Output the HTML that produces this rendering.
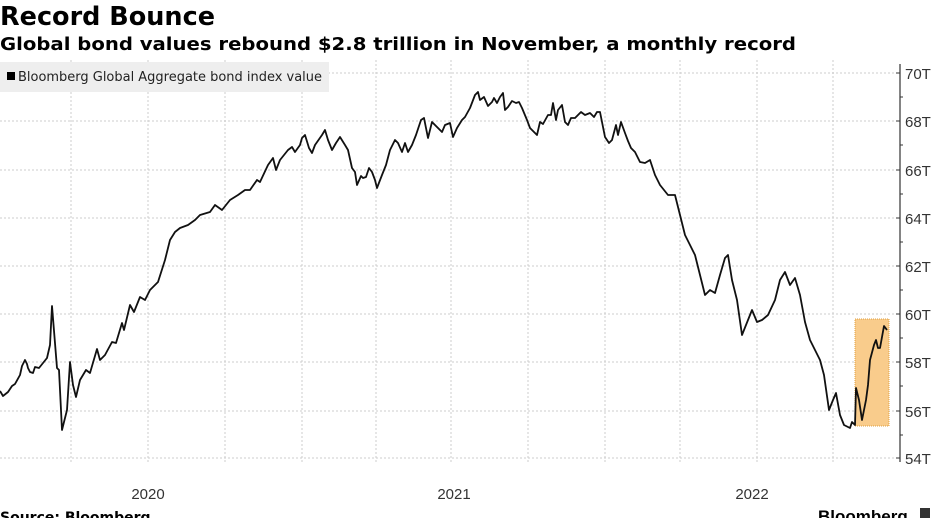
<!DOCTYPE html>
<html><head><meta charset="utf-8"><style>
body{margin:0;width:935px;height:518px;background:#fff;overflow:hidden;font-family:"Liberation Sans",sans-serif}
</style></head><body>
<svg width="935" height="518" xmlns="http://www.w3.org/2000/svg" style="position:absolute;left:0;top:0">
<text x="0" y="25" font-family="DejaVu Sans" font-weight="bold" font-size="26" fill="#000" textLength="215" lengthAdjust="spacingAndGlyphs">Record Bounce</text>
<text x="0" y="50" font-family="DejaVu Sans" font-weight="bold" font-size="18" fill="#000" textLength="796" lengthAdjust="spacingAndGlyphs">Global bond values rebound $2.8 trillion in November, a monthly record</text>
<g stroke="#ccc" stroke-dasharray="2,2" stroke-width="1">
<line x1="0" y1="73" x2="900" y2="73"/><line x1="0" y1="121" x2="900" y2="121"/><line x1="0" y1="170" x2="900" y2="170"/><line x1="0" y1="218" x2="900" y2="218"/><line x1="0" y1="266" x2="900" y2="266"/><line x1="0" y1="314" x2="900" y2="314"/><line x1="0" y1="362" x2="900" y2="362"/><line x1="0" y1="411" x2="900" y2="411"/><line x1="0" y1="458" x2="900" y2="458"/>
<line x1="71" y1="60" x2="71" y2="462"/><line x1="148" y1="60" x2="148" y2="462"/><line x1="225" y1="60" x2="225" y2="462"/><line x1="302" y1="60" x2="302" y2="462"/><line x1="376" y1="60" x2="376" y2="462"/><line x1="451" y1="60" x2="451" y2="462"/><line x1="528" y1="60" x2="528" y2="462"/><line x1="605" y1="60" x2="605" y2="462"/><line x1="680" y1="60" x2="680" y2="462"/><line x1="757" y1="60" x2="757" y2="462"/><line x1="833" y1="60" x2="833" y2="462"/>
</g>
<rect x="0" y="62" width="329" height="30" fill="#eee"/>
<rect x="7" y="72" width="8" height="8" fill="#000"/>
<text x="18" y="81" font-family="DejaVu Sans" font-size="13" fill="#222" textLength="304" lengthAdjust="spacingAndGlyphs">Bloomberg Global Aggregate bond index value</text>
<rect x="855" y="319" width="34" height="107" fill="#f9cc8c" stroke="#e0a040" stroke-dasharray="1,1"/>
<polyline fill="none" stroke="#111" stroke-width="1.8" stroke-linejoin="round" points="0,391 3,396 8,392 12,386 15,384 20,375 22,366 25,360 27,364 28,368 30,372 33,373 35,367 39,368 47,358 50,345 52,306 57,368 59,370 62,430 67,410 70,362 73,385 76,397 80,380 86,370 90,373 97,349 100,360 105,355 112,342 116,343 122,323 124,330 130,305 134,312 140,297 145,300 150,290 158,282 165,260 170,240 175,232 180,228 188,225 195,220 200,215 210,212 215,205 222,210 230,200 238,195 245,190 250,190 257,180 260,182 268,165 273,158 276,170 280,160 288,150 292,147 295,152 300,145 302,138 305,135 309,148 312,153 315,145 322,135 325,130 328,140 332,150 336,143 340,137 345,145 348,150 352,168 355,172 357,185 361,176 363,178 366,177 369,168 372,172 375,180 377,188 382,175 386,165 390,150 395,140 398,143 402,152 405,143 408,152 412,145 416,135 421,120 424,118 428,138 432,122 440,130 442,132 445,125 450,123 453,137 457,128 462,120 465,117 470,108 475,95 478,92 480,100 484,97 488,106 492,102 494,98 497,103 500,97 503,93 505,110 508,107 512,101 516,103 519,102 522,108 527,120 530,128 534,132 537,135 540,122 543,124 548,115 551,115 553,103 556,120 558,110 562,105 565,122 568,125 571,118 575,118 578,115 581,112 585,115 590,113 594,117 597,112 600,112 602,122 605,137 609,143 612,140 616,125 618,135 621,122 625,133 628,141 631,148 635,152 640,162 645,163 650,160 655,175 660,185 668,195 675,195 680,215 685,235 690,245 695,255 700,275 705,295 710,290 715,293 720,275 725,258 728,255 732,280 737,300 742,335 748,320 752,310 757,322 762,320 768,315 775,300 780,280 785,272 790,285 795,278 800,295 805,322 810,340 815,350 820,360 824,375 829,410 833,400 836,393 840,415 844,425 850,428 852,422 855,425 856,388 859,400 862,420 866,400 868,385 870,360 874,345 876,340 878,348 880,348 884,326 887,330"/>
<line x1="900" y1="64" x2="900" y2="462" stroke="#333" stroke-width="1.2"/>
<g stroke="#333" stroke-width="1"><line x1="896" y1="73" x2="900" y2="73"/><line x1="896" y1="121" x2="900" y2="121"/><line x1="896" y1="170" x2="900" y2="170"/><line x1="896" y1="218" x2="900" y2="218"/><line x1="896" y1="266" x2="900" y2="266"/><line x1="896" y1="314" x2="900" y2="314"/><line x1="896" y1="362" x2="900" y2="362"/><line x1="896" y1="411" x2="900" y2="411"/><line x1="896" y1="458" x2="900" y2="458"/>
<line x1="900" y1="97" x2="903" y2="97"/><line x1="900" y1="145" x2="903" y2="145"/><line x1="900" y1="194" x2="903" y2="194"/><line x1="900" y1="242" x2="903" y2="242"/><line x1="900" y1="290" x2="903" y2="290"/><line x1="900" y1="338" x2="903" y2="338"/><line x1="900" y1="386" x2="903" y2="386"/><line x1="900" y1="435" x2="903" y2="435"/></g>
<g font-size="15" fill="#333">
<text x="905" y="79">70T</text><text x="905" y="127">68T</text><text x="905" y="176">66T</text><text x="905" y="224">64T</text><text x="905" y="272">62T</text><text x="905" y="320">60T</text><text x="905" y="368">58T</text><text x="905" y="417">56T</text><text x="905" y="464">54T</text>
<text x="148" y="499" text-anchor="middle">2020</text><text x="454" y="499" text-anchor="middle">2021</text><text x="752" y="499" text-anchor="middle">2022</text>
</g>
<text x="0" y="522" font-family="DejaVu Sans" font-size="14" font-weight="bold" fill="#000">Source: Bloomberg</text>
<text x="818" y="522" font-size="17" font-weight="bold" fill="#000">Bloomberg</text>
<rect x="920" y="508" width="10" height="10" fill="#333"/>
</svg>
</body></html>
